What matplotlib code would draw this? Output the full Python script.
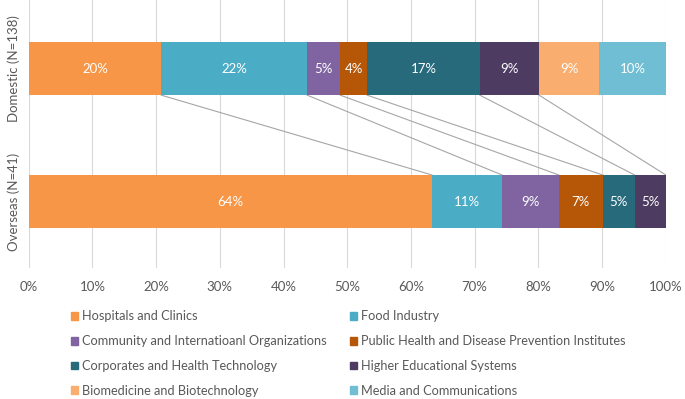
import matplotlib
matplotlib.use('AGG')

import matplotlib.pyplot as plt
from matplotlib.patches import Patch
import numpy as np

plt.rcParams['font.family'] = ['Lato', 'DejaVu Sans']

groups = ['Overseas (N=41)', 'Domestic (N=138)']
categories = ['Hospitals and Clinics', 'Food Industry',
              'Community and Internatioanl Organizations',
              'Public Health and Disease Prevention Institutes',
              'Corporates and Health Technology', 'Higher Educational Systems',
              'Biomedicine and Biotechnology', 'Media and Communications']
colors = ['#F79646', '#4BACC6', '#8064A2', '#B65708',
          '#276A7C', '#4D3B62', '#F9AE6F', '#6FBED3']

# bar widths in percent
domestic = [20.8, 22.9, 5.2, 4.2, 17.7, 9.3, 9.4, 10.5]
overseas = [63.3, 11.0, 8.9, 6.9, 5.0, 4.9, 0, 0]
domestic_lbl = ['20%', '22%', '5%', '4%', '17%', '9%', '9%', '10%']
overseas_lbl = ['64%', '11%', '9%', '7%', '5%', '5%', '', '']

fig = plt.figure(figsize=(6.85, 3.99), dpi=100)
ax = fig.add_axes([0.0419, 0.328, 0.9301, 0.672])

bar_h = 0.4
for row, (vals, lbls) in enumerate([(overseas, overseas_lbl), (domestic, domestic_lbl)]):
    left = 0
    for v, lb, c in zip(vals, lbls, colors):
        if v > 0:
            ax.barh(row, v, left=left, height=bar_h, color=c, zorder=3)
            ax.text(left + v / 2, row, lb, ha='center', va='center',
                    color='white', fontsize=9.5, zorder=4)
        left += v

# connectors between matching cumulative boundaries
cum_d = np.cumsum(domestic)
cum_o = np.cumsum(overseas)
for i in range(6):
    ax.plot([cum_d[i], cum_o[i]], [1 - bar_h / 2, bar_h / 2],
            color='#A6A6A6', lw=0.8, zorder=2)

ax.set_xlim(0, 100)
ax.set_ylim(-0.5, 1.515)
ax.set_xticks(np.arange(0, 101, 10))
ax.set_xticklabels(['{}%'.format(t) for t in range(0, 101, 10)])
ax.set_yticks([0, 1])
ax.set_yticklabels(groups, rotation=90, va='center')
ax.tick_params(axis='both', length=0, colors='#595959', labelsize=9.5)
ax.tick_params(axis='x', pad=9)
ax.tick_params(axis='y', pad=6)
ax.grid(axis='x', color='#D9D9D9', lw=0.8, zorder=0)
for s in ax.spines.values():
    s.set_visible(False)

order = [0, 2, 4, 6, 1, 3, 5, 7]
handles = [Patch(color=colors[i], label=categories[i]) for i in order]
fig.legend(handles=handles, ncol=2, loc='upper left',
           bbox_to_anchor=(0.1036, 0.222), frameon=False, fontsize=9.2,
           handlelength=0.55, handleheight=0.55, handletextpad=0.3,
           columnspacing=1.85, labelspacing=1.0, labelcolor='#595959',
           borderaxespad=0, borderpad=0)

fig.savefig('out.png', dpi=100)
